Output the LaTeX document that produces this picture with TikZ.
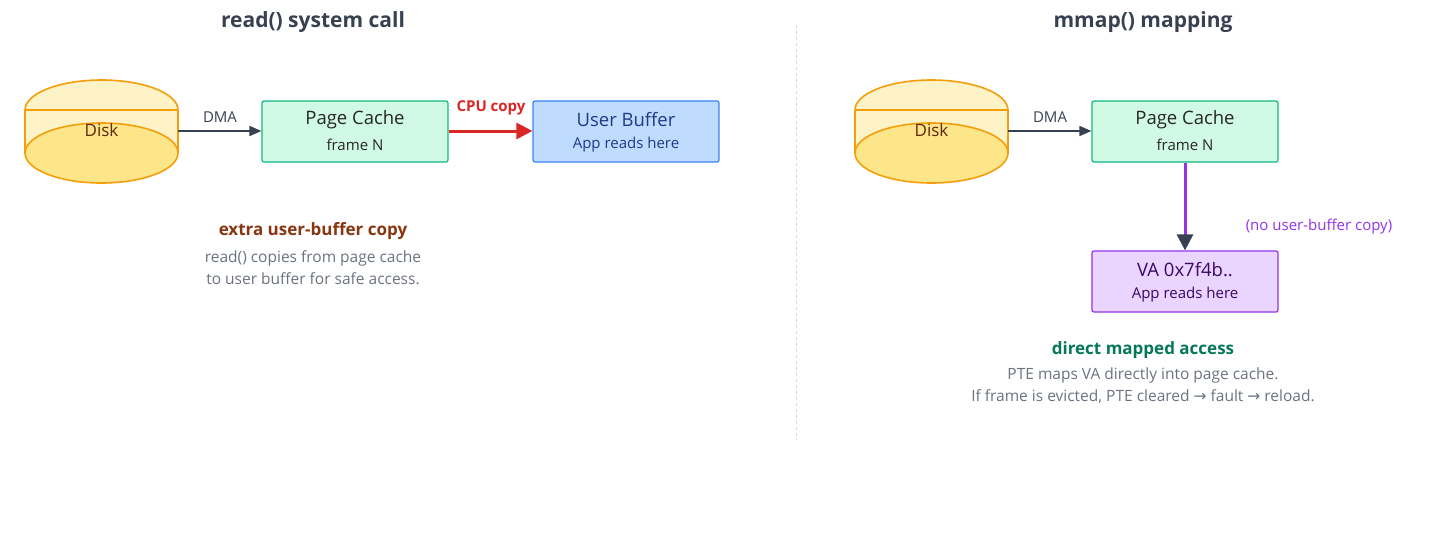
\documentclass[tikz,border=0pt]{standalone}
\usepackage{fontspec}
\setmainfont{Open Sans}
\newfontfamily\sym{DejaVu Sans}
\usetikzlibrary{arrows.meta}
\definecolor{dk}{HTML}{374151}
\definecolor{gr}{HTML}{6B7280}
\definecolor{diskfill}{HTML}{FEF3C7}
\definecolor{diskdark}{HTML}{FDE68A}
\definecolor{diskline}{HTML}{F59E0B}
\definecolor{pcfill}{HTML}{D1FAE5}
\definecolor{pcline}{HTML}{10B981}
\definecolor{ubfill}{HTML}{BFDBFE}
\definecolor{ubline}{HTML}{3B82F6}
\definecolor{ubtext}{HTML}{1E3A8A}
\definecolor{vafill}{HTML}{E9D5FF}
\definecolor{valine}{HTML}{9333EA}
\definecolor{vatext}{HTML}{3B0764}
\definecolor{cpured}{HTML}{DC2626}
\definecolor{brown}{HTML}{7C2D12}
\definecolor{dgreen}{HTML}{047857}
\tikzset{
  box/.style={draw, rounded corners=2pt, line width=1.2pt, minimum width=186pt, minimum height=61pt, align=center, inner sep=0pt},
  ttl/.style={font=\fontsize{21}{24}\selectfont\bfseries, text=dk},
  note/.style={font=\fontsize{15.5}{22}\selectfont, text=gr, align=center},
  lbl/.style={font=\fontsize{15}{16}\selectfont, text=dk},
  big/.style={font=\fontsize{18.5}{20}\selectfont},
  small/.style={font=\fontsize{15}{16}\selectfont},
  conn/.style={line width=1.6pt, dk, -{Triangle[length=12pt,width=10pt]}},
}
\newcommand{\mydisk}[2]{%
  \fill[diskfill] (#1,-110) -- (#1,-153) -- (#1+153,-153) -- (#1+153,-110) arc[start angle=0,end angle=180,x radius=76.5,y radius=30] -- cycle;
  \filldraw[fill=diskdark, draw=diskline, line width=1.6pt] (#1+76.5,-153) ellipse[x radius=76.5, y radius=30];
  \draw[diskline, line width=1.6pt] (#1,-153) -- (#1,-110) arc[start angle=180,end angle=0,x radius=76.5,y radius=30] -- (#1+153,-153);
  \draw[diskline, line width=1.6pt] (#1,-110) -- (#1+153,-110);
  \node[font=\fontsize{17}{18}\selectfont, text=brown!80!black] (#2) at (#1+76.5,-130) {Disk};
  \coordinate (#2e) at (#1+153,-131);
}
\begin{document}
\begin{tikzpicture}[x=1pt,y=1pt]
\useasboundingbox (0,0) rectangle (1456,-542);
\draw[gray!30, dashed, line width=1pt] (796,-25) -- (796,-440);
% LEFT
\node[ttl] (t1) at (313,-22) {read() system call};
\mydisk{25}{d1}
\node[box, fill=pcfill, draw=pcline] (pc1) at (355,-131.5) {};
\node[big, text=black!85] (pc1a) at (355,-120) {Page Cache};
\node[small, text=black!85] (pc1b) at (355,-145) {frame N};
\node[box, fill=ubfill, draw=ubline] (ub) at (626,-131.5) {};
\node[big, text=ubtext] (uba) at (626,-120) {User Buffer};
\node[small, text=ubtext] (ubb) at (626,-145) {App reads here};
\draw[conn] (d1e) -- (pc1.west|-d1e);
\node[lbl] (dma1) at (220,-117) {DMA};
\draw[line width=3pt, cpured, -{Triangle[length=16pt,width=16pt]}] (pc1.east|-d1e) -- (ub.west|-d1e);
\node[font=\fontsize{15}{16}\selectfont\bfseries, text=cpured] (cpu) at (491,-108) {CPU copy};
\node[font=\fontsize{17}{18}\selectfont\bfseries, text=brown!90!orange] (n1) at (313,-231) {extra user-buffer copy};
\node[note] (n1b) at (313,-268) {read() copies from page cache\\to user buffer for safe access.};
% RIGHT
\node[ttl] (t2) at (1143,-22) {mmap() mapping};
\mydisk{855}{d2}
\node[box, fill=pcfill, draw=pcline] (pc2) at (1185,-131.5) {};
\node[big, text=black!85] (pc2a) at (1185,-120) {Page Cache};
\node[small, text=black!85] (pc2b) at (1185,-145) {frame N};
\draw[conn] (d2e) -- (pc2.west|-d2e);
\node[lbl] (dma2) at (1050,-117) {DMA};
\node[box, fill=vafill, draw=valine] (va) at (1185,-281.5) {};
\node[big, text=vatext] (vaa) at (1185,-270) {VA 0x7f4b..};
\node[small, text=vatext] (vab) at (1185,-295) {App reads here};
\draw[line width=3pt, valine, -{Triangle[length=16pt,width=16pt,color=dk,fill=dk]}] (pc2.south) -- (va.north);
\node[font=\fontsize{15}{16}\selectfont, text=valine] (nouc) at (1319,-227) {(no user-buffer copy)};
\node[font=\fontsize{17}{18}\selectfont\bfseries, text=dgreen] (n2) at (1143,-350) {direct mapped access};
\node[note] (n2b) at (1143,-386) {PTE maps VA directly into page cache.\\If frame is evicted, PTE cleared {\sym →} fault {\sym →} reload.};
\end{tikzpicture}
\end{document}
